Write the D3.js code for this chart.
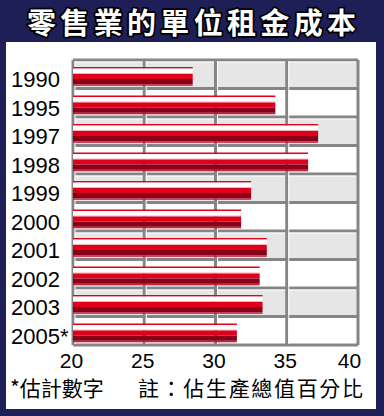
<!DOCTYPE html>
<html><head><meta charset="utf-8">
<script src="https://cdn.jsdelivr.net/npm/d3@7/dist/d3.min.js"></script>
<style>html,body{margin:0;padding:0;background:#1d1f56;}svg{display:block;}</style>
</head><body>
<script>
const title = "零售業的單位租金成本";
const years = ["1990","1995","1997","1998","1999","2000","2001","2002","2003","2005*"];
const values = [28.4, 34.2, 37.2, 36.5, 32.5, 31.8, 33.6, 33.1, 33.3, 31.5];
const ticks = [20, 25, 30, 35, 40];
const noteLeft = "*估計數字";
const noteRight = "註：佔生產總值百分比";

const W = 384, H = 416;
const svg = d3.select("body").append("svg").attr("width", W).attr("height", H);
svg.append("rect").attr("width", W).attr("height", H).attr("fill", "#1d1f56");
svg.append("rect").attr("x", 6).attr("y", 42).attr("width", 370).attr("height", 367).attr("fill", "#fff");

svg.append("text").attr("x", 27).attr("y", 34)
  .attr("textLength", 329).attr("lengthAdjust", "spacing")
  .attr("font-family", "'Noto Sans CJK TC', sans-serif").attr("font-weight", "bold")
  .attr("font-size", 29).attr("fill", "#fff")
  .attr("stroke", "#000").attr("stroke-width", 3.5).attr("paint-order", "stroke")
  .attr("stroke-linejoin", "round")
  .text(title);

const x = d3.scaleLinear().domain([20, 40]).range([73, 358]);
const y = d3.scaleBand().domain(years).range([60, 345]).padding(0);
const bw = y.bandwidth();

const g = svg.append("g");
g.selectAll("rect.band").data(years).join("rect")
  .attr("x", x(20)).attr("y", d => y(d)).attr("width", x(40) - x(20)).attr("height", bw)
  .attr("fill", (d, i) => i % 2 === 0 ? "#e6e6e6" : "#fff");
const hy = years.map(d => y(d)).concat([y.range()[1]]);
g.selectAll("line.h").data(hy).join("line")
  .attr("x1", x(20)).attr("x2", x(40)).attr("y1", d => d).attr("y2", d => d)
  .attr("stroke", "#858585").attr("stroke-width", 3);
g.selectAll("line.hh").data(hy.slice(0, -1)).join("line")
  .attr("x1", x(20) + 2).attr("x2", x(40) - 2).attr("y1", d => d + 2).attr("y2", d => d + 2)
  .attr("stroke", "#fff").attr("stroke-width", 1);
g.selectAll("line.v").data(ticks).join("line")
  .attr("x1", d => x(d)).attr("x2", d => x(d)).attr("y1", 60).attr("y2", 345)
  .attr("stroke", "#858585").attr("stroke-width", 3);
g.selectAll("line.vh").data(ticks.slice(0, -1)).join("line")
  .attr("x1", d => x(d) + 2).attr("x2", d => x(d) + 2).attr("y1", 61).attr("y2", 344)
  .attr("stroke", "#fff").attr("stroke-width", 1);

const bars = svg.append("g").selectAll("g").data(years.map((d, i) => ({y: d, v: values[i]}))).join("g")
  .attr("transform", d => `translate(${x(20)},${y(d.y)})`);
const stripes = [
  {dy: 7, h: 1.6, c: "#e2001a"},
  {dy: 8.6, h: 5.4, c: "#ffffff"},
  {dy: 13, h: 1, c: "#f4b0b8"},
  {dy: 14, h: 5, c: "#e0001b"},
  {dy: 19, h: 5.3, c: "#8a0018"},
  {dy: 24.3, h: 1.5, c: "#c4203a"}
];
stripes.forEach(s => {
  bars.append("rect").attr("x", 0).attr("y", s.dy)
    .attr("width", d => x(d.v) - x(20)).attr("height", s.h).attr("fill", s.c);
});

svg.append("g").selectAll("text").data(years).join("text")
  .attr("x", 11).attr("y", d => y(d) + 27)
  .attr("font-family", "'Liberation Sans', Arial, sans-serif").attr("font-size", 22)
  .attr("fill", "#000").text(d => d);

const ax = svg.append("g").attr("transform", "translate(0,368)")
  .call(d3.axisBottom(x).tickValues(ticks).tickSize(0).tickPadding(0).tickFormat(d3.format("d")));
ax.select(".domain").remove();
ax.selectAll("text").attr("font-family", "'Liberation Sans', Arial, sans-serif")
  .attr("font-size", 21).attr("fill", "#000").attr("dy", 0)
  .attr("dx", d => d === 40 ? -9 : -2);

svg.append("text").attr("x", 10).attr("y", 396)
  .attr("font-family", "'Noto Sans CJK TC', sans-serif").attr("font-size", 21)
  .attr("fill", "#000").text(noteLeft);
svg.append("text").attr("x", 138).attr("y", 396)
  .attr("textLength", 225).attr("lengthAdjust", "spacing")
  .attr("font-family", "'Noto Sans CJK TC', sans-serif").attr("font-size", 21)
  .attr("fill", "#000").text(noteRight);
</script>
</body></html>
